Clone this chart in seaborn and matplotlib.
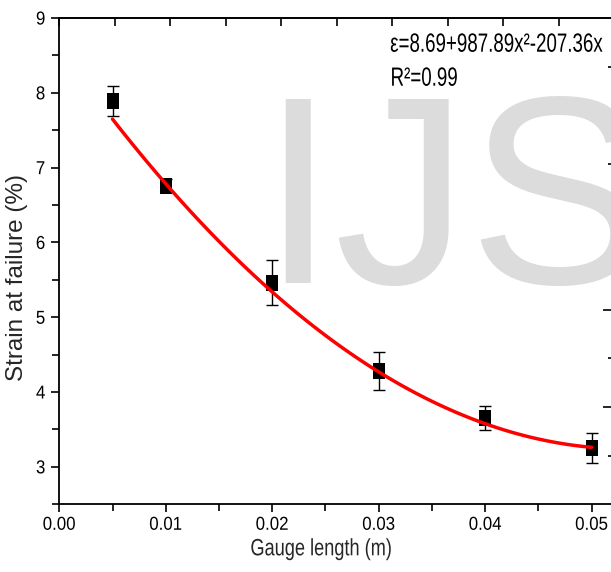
import matplotlib
matplotlib.use("Agg")
import matplotlib.pyplot as plt
import seaborn as sns
import numpy as np
import pandas as pd
from matplotlib.ticker import MultipleLocator, FormatStrFormatter, FixedLocator, NullFormatter
from matplotlib.patheffects import AbstractPathEffect
from matplotlib.transforms import Affine2D

# ---- data ----
gauge_length = [0.005, 0.01, 0.02, 0.03, 0.04, 0.05]
strain = [7.89, 6.76, 5.46, 4.28, 3.65, 3.25]
strain_err = [0.20, 0.09, 0.30, 0.25, 0.16, 0.20]
# red fitted curve, values at the data abscissae
fit_curve = [7.70, 6.70, 5.38, 4.25, 3.60, 3.25]
equation_text = "\u03b5=8.69+987.89x\u00b2-207.36x"
r2_text = "R\u00b2=0.99"
watermark = "IJS"

df = pd.DataFrame({"x": gauge_length, "y": strain, "err": strain_err})
fit_df = pd.DataFrame({"x": gauge_length, "y": fit_curve})


class Condense(AbstractPathEffect):
    """Horizontally condense text glyphs (narrow font look)."""
    def __init__(self, sx=0.82, anchor="center"):
        super().__init__()
        self.sx = sx
        self.anchor = anchor

    def draw_path(self, renderer, gc, tpath, affine, rgbFace=None):
        ext = tpath.get_extents()
        if self.anchor == "left":
            cx = ext.x0
        elif self.anchor == "right":
            cx = ext.x1
        else:
            cx = 0.5 * (ext.x0 + ext.x1)
        t = Affine2D().translate(-cx, 0).scale(self.sx, 1).translate(cx, 0) + affine
        renderer.draw_path(gc, tpath, t, rgbFace)


sns.set_theme(style="white")
plt.rcParams["font.family"] = ["Liberation Sans", "DejaVu Sans"]

fig = plt.figure(figsize=(6.11, 5.72), dpi=100)
ax = fig.add_axes([0.097, 0.1184, 0.908, 0.8501])

# watermark
fig.text(0.426, 0.5052, watermark, fontsize=193, color="#dcdcdc",
         ha="left", va="baseline", zorder=0)
ax.patch.set_alpha(0)

ax.errorbar(df["x"], df["y"], yerr=df["err"], fmt="none", ecolor="black",
            elinewidth=1.0, capsize=4.5, capthick=1.0, zorder=2)
rect = [(-0.75, -1), (0.75, -1), (0.75, 1), (-0.75, 1), (-0.75, -1)]
sns.scatterplot(data=df, x="x", y="y", marker=rect, s=120, color="black",
                edgecolor="black", linewidth=0, ax=ax, zorder=3)
sns.regplot(data=fit_df, x="x", y="y", order=2, ci=None, scatter=False, truncate=True,
            line_kws=dict(color="#ff0000", lw=2.5, zorder=4), ax=ax)

ax.set_xlim(0, 0.0521)
ax.set_ylim(2.5, 9)
ax.set_xlabel("Gauge length (m)", fontsize=17)
ax.set_ylabel("Strain at failure (%)", fontsize=17.5)
ax.xaxis.set_label_coords(0.4727, -0.070)
ax.yaxis.set_label_coords(-0.056, 0.466)
ax.xaxis.label.set_path_effects([Condense(0.77, "center")])

ax.xaxis.set_major_locator(MultipleLocator(0.01))
ax.xaxis.set_minor_locator(MultipleLocator(0.005))
ax.xaxis.set_major_formatter(FormatStrFormatter("%.2f"))
ax.yaxis.set_major_locator(MultipleLocator(1))
ax.yaxis.set_minor_locator(MultipleLocator(0.5))

for s in ax.spines.values():
    s.set_color("black")
    s.set_linewidth(1.3)

ax.tick_params(axis="both", which="both", direction="out", color="black",
               labelsize=13.5, labelcolor="black", width=1.2,
               top=False, right=False, bottom=True, left=True)
ax.tick_params(axis="x", which="major", length=6, pad=3)
ax.tick_params(axis="y", which="major", length=6, pad=4)
ax.tick_params(axis="both", which="minor", length=5)

# top and right ticks (inward, on a 10-step grid of the frame)
top = ax.secondary_xaxis("top", functions=(lambda v: v / 0.0521, lambda t: t * 0.0521))
top.xaxis.set_major_locator(FixedLocator(np.linspace(0, 1, 11)))
top.xaxis.set_major_formatter(NullFormatter())
top.tick_params(direction="in", length=6, width=1.2, color="black")
top.spines["top"].set_linewidth(1.3)

right = ax.secondary_yaxis("right", functions=(lambda v: (v - 2.5) / 6.5, lambda t: t * 6.5 + 2.5))
right.yaxis.set_major_locator(FixedLocator([0.2, 0.4, 0.6, 0.8]))
right.yaxis.set_minor_locator(FixedLocator([0.1, 0.3, 0.5, 0.7, 0.9]))
right.yaxis.set_major_formatter(NullFormatter())
right.tick_params(which="major", direction="in", length=8, width=1.2, color="black")
right.tick_params(which="minor", direction="in", length=4, width=1.2, color="black")

eq = ax.text(0.596, 0.9307, equation_text, transform=ax.transAxes, fontsize=19,
             color="black", ha="left", va="baseline", zorder=5)
r2 = ax.text(0.596, 0.8608, r2_text, transform=ax.transAxes, fontsize=19,
             color="black", ha="left", va="baseline", zorder=5)
eq.set_path_effects([Condense(0.71, "left")])
r2.set_path_effects([Condense(0.71, "left")])

fig.canvas.draw()
for lbl in ax.get_xticklabels():
    lbl.set_path_effects([Condense(0.9, "center")])
for lbl in ax.get_yticklabels():
    lbl.set_path_effects([Condense(0.9, "right")])

fig.savefig("out.png", dpi=100, facecolor="white")
